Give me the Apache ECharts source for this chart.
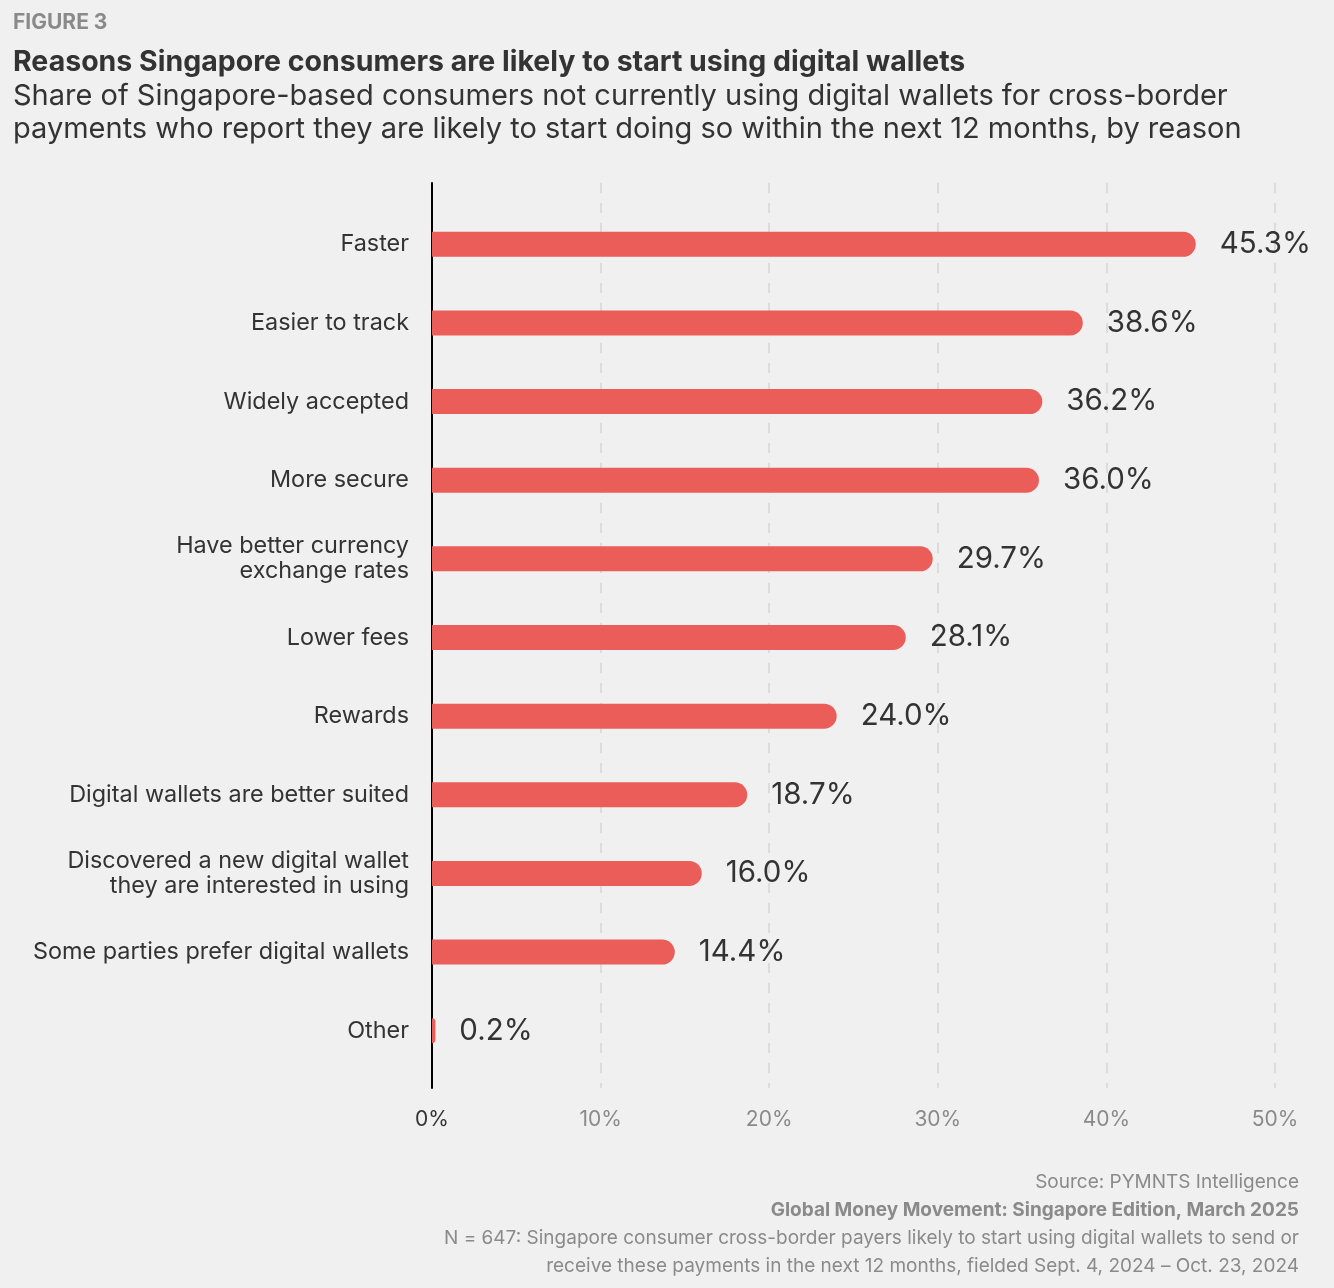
<!DOCTYPE html>
<html>
<head>
<meta charset="utf-8">
<title>Figure 3</title>
<script src="https://cdn.jsdelivr.net/npm/echarts@6/dist/echarts.min.js"></script>
<style>
  html, body { margin: 0; height: 100%; background: #f0f0f0; }
  #main { width: 1334px; height: 1288px; }
</style>
</head>
<body>
<div id="main"></div>
<script>
// reasons, top to bottom
var reasons = [
  'Faster',
  'Easier to track',
  'Widely accepted',
  'More secure',
  'Have better currency\nexchange rates',
  'Lower fees',
  'Rewards',
  'Digital wallets are better suited',
  'Discovered a new digital wallet\nthey are interested in using',
  'Some parties prefer digital wallets',
  'Other'
];
var shares = [45.3, 38.6, 36.2, 36.0, 29.7, 28.1, 24.0, 18.7, 16.0, 14.4, 0.2];

var xMin = 0, xMax = 50, xStep = 10;

var footLines = [
  'Source: PYMNTS Intelligence',
  'Global Money Movement: Singapore Edition, March 2025',
  'N = 647: Singapore consumer cross-border payers likely to start using digital wallets to send or',
  'receive these payments in the next 12 months, fielded Sept. 4, 2024 \u2013 Oct. 23, 2024'
];

var font = 'Inter, Roboto, sans-serif';
var dark = '#333333';
var grey = '#8a8a8a';

function textTitle(text, left, right, top, size, weight, color) {
  var t = { text: text, top: top, padding: 0,
    textStyle: { fontSize: size, fontWeight: weight, color: color, lineHeight: size + 4, fontFamily: font } };
  if (left != null) t.left = left;
  if (right != null) t.right = right;
  return t;
}

var titles = [
  textTitle('FIGURE 3', 13, null, 10, 21, 'bold', grey),
  textTitle('Reasons Singapore consumers are likely to start using digital wallets', 13, null, 46, 28.5, 'bold', dark),
  textTitle('Share of Singapore-based consumers not currently using digital wallets for cross-border', 13, null, 80, 29, 'normal', dark),
  textTitle('payments who report they are likely to start doing so within the next 12 months, by reason', 13, null, 113, 29, 'normal', dark)
];
footLines.forEach(function (s, i) {
  titles.push(textTitle(s, null, 35, 1171 + i * 28, 19, i == 1 ? 'bold' : 'normal', grey));
});

var chart = echarts.init(document.getElementById('main'));
var option = {
  backgroundColor: '#f0f0f0',
  textStyle: { fontFamily: font },
  title: titles,
  grid: [
    { left: 432, right: 59, top: 205, bottom: 218 },
    { left: 432, right: 59, top: 183, bottom: 200 }
  ],
  xAxis: [
    { gridIndex: 0, type: 'value', min: xMin, max: xMax, interval: xStep,
      axisLine: { show: false }, axisTick: { show: false },
      axisLabel: { show: false }, splitLine: { show: false } },
    { gridIndex: 1, type: 'value', min: xMin, max: xMax, interval: xStep,
      axisLine: { show: false }, axisTick: { show: false },
      axisLabel: {
        margin: 21, fontSize: 21, fontFamily: font,
        color: function (v) { return v == 0 ? dark : grey; },
        formatter: '{value}%'
      },
      splitLine: { show: true, lineStyle: { color: '#dcdcdc', width: 2, type: [10, 10] } } }
  ],
  yAxis: [
    { gridIndex: 0, type: 'category', data: reasons, inverse: true,
      axisLine: { show: false }, axisTick: { show: false },
      axisLabel: { margin: 23, fontSize: 23.4, color: dark, lineHeight: 25, fontFamily: font } },
    { gridIndex: 1, type: 'value', min: 0, max: 1,
      axisLine: { show: true, onZero: false, lineStyle: { color: '#000', width: 2 } },
      axisTick: { show: false }, axisLabel: { show: false }, splitLine: { show: false } }
  ],
  series: [{
    type: 'bar',
    xAxisIndex: 0, yAxisIndex: 0,
    data: shares,
    barWidth: 25,
    itemStyle: { color: '#ea5d59', borderRadius: [0, 13, 13, 0] },
    label: {
      show: true, position: 'right', distance: 24,
      fontSize: 29.5, color: dark, fontFamily: font,
      formatter: function (p) { return p.value.toFixed(1) + '%'; }
    },
    z: 3
  }]
};
chart.setOption(option);
</script>
</body>
</html>
